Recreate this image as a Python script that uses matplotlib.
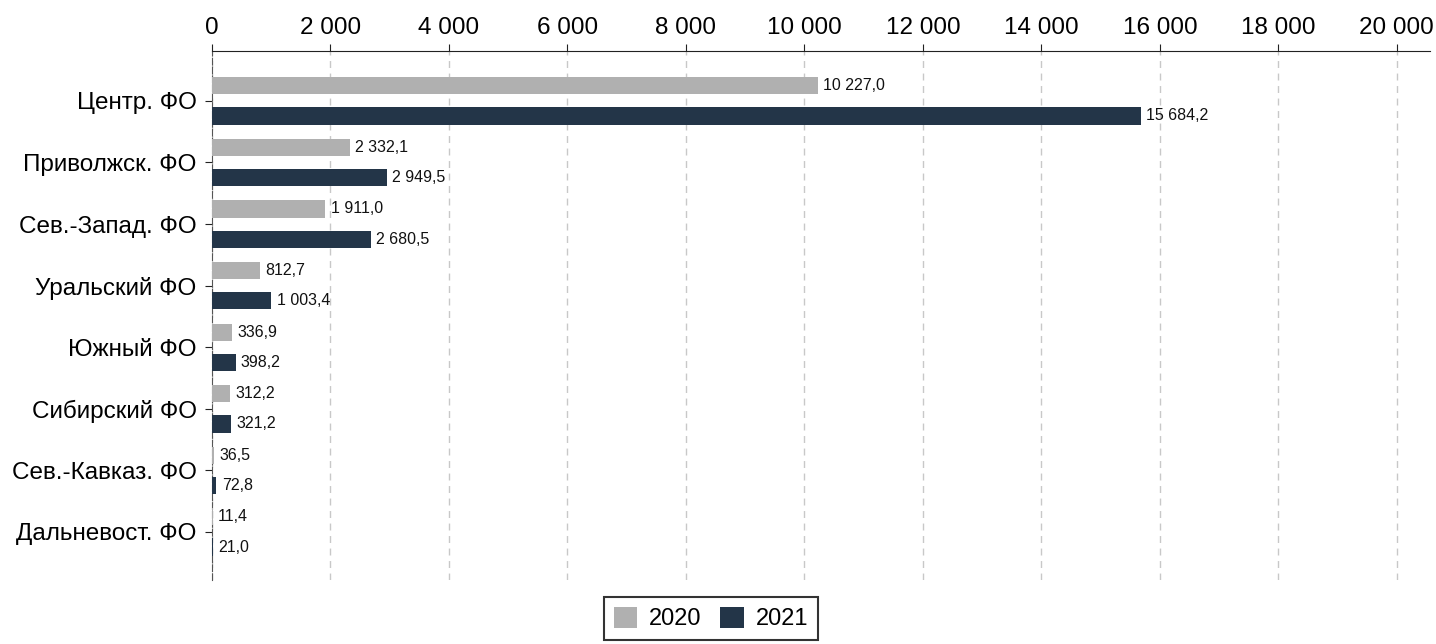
import numpy as np
import matplotlib.pyplot as plt
from matplotlib.ticker import FuncFormatter

regions = ["Центр. ФО", "Приволжск. ФО", "Сев.-Запад. ФО", "Уральский ФО",
           "Южный ФО", "Сибирский ФО", "Сев.-Кавказ. ФО", "Дальневост. ФО"]
v2020 = [10227.0, 2332.1, 1911.0, 812.7, 336.9, 312.2, 36.5, 11.4]
v2021 = [15684.2, 2949.5, 2680.5, 1003.4, 398.2, 321.2, 72.8, 21.0]
x_ticks = list(range(0, 20001, 2000))

c2020 = "#b0b0b0"
c2021 = "#233548"

plt.rcParams['font.family'] = ['Liberation Sans', 'DejaVu Sans']


def fmt(v, dec=0):
    s = f"{v:,.{dec}f}"
    return s.replace(",", " ").replace(".", ",")


fig = plt.figure(figsize=(14.36, 6.44), dpi=100)
ax = fig.add_axes([212 / 1436, 1 - 580 / 644, (1430 - 212) / 1436, (580 - 51) / 644])

y = np.arange(len(regions))
h = 0.28
off = 0.245
b1 = ax.barh(y - off, v2020, height=h, color=c2020, label="2020", zorder=3)
b2 = ax.barh(y + off, v2021, height=h, color=c2021, label="2021", zorder=3)

for bars, vals in ((b1, v2020), (b2, v2021)):
    for bar, v in zip(bars, vals):
        ax.text(bar.get_width() + 90, bar.get_y() + bar.get_height() / 2, fmt(v, 1),
                va="center", ha="left", fontsize=11.5, color="#111111")

ax.set_ylim(len(regions) - 1 + 0.78, -0.81)
ax.set_xlim(0, 20560)
ax.set_yticks(y)
ax.set_yticklabels(regions, fontsize=17.5)
ax.set_xticks(x_ticks)
ax.xaxis.set_major_formatter(FuncFormatter(lambda v, p: fmt(v)))
ax.xaxis.tick_top()
ax.tick_params(axis="x", labelsize=17.5, length=5, color="#222222", pad=4)
ax.tick_params(axis="y", length=5, color="#222222", pad=6)

for s in ("right", "bottom"):
    ax.spines[s].set_visible(False)
ax.spines["top"].set_color("#222222")
ax.spines["left"].set_color("#555555")
ax.spines["left"].set_linestyle((0, (6, 2)))
ax.grid(axis="x", color="#c8c8c8", linestyle=(0, (5, 4)), linewidth=1, zorder=0)
ax.set_axisbelow(True)

leg = fig.legend(handles=[b1, b2], loc="lower center", bbox_to_anchor=(711 / 1436, -0.012),
                 ncol=2, fontsize=17, frameon=True, fancybox=False, edgecolor="black",
                 handlelength=1.0, handleheight=1.0, columnspacing=0.8, handletextpad=0.5,
                 borderpad=0.4)
leg.get_frame().set_linewidth(1.5)

fig.savefig("out.png", dpi=100)
